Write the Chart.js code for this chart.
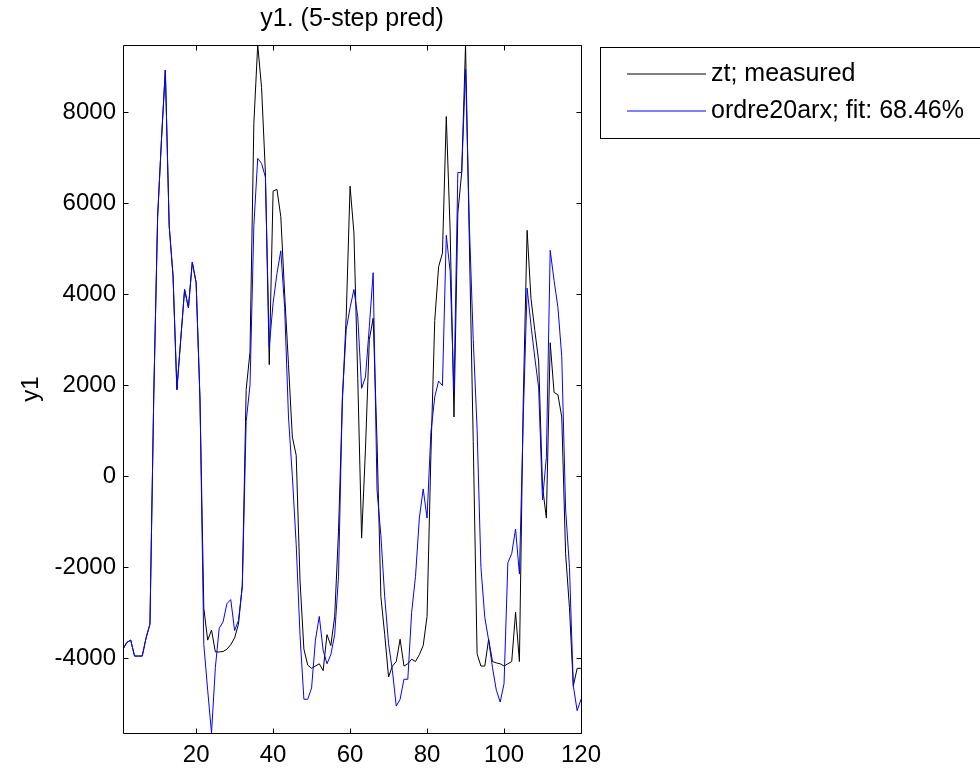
<!DOCTYPE html>
<html>
<head>
<meta charset="utf-8">
<script src="https://cdn.jsdelivr.net/npm/chart.js@4.4.1/dist/chart.umd.min.js"></script>
<style>
html,body{margin:0;padding:0;background:#ffffff;}
#wrap{width:980px;height:771px;position:relative;background:#ffffff;}
</style>
</head>
<body>
<div id="wrap"><canvas id="c"></canvas></div>
<script>
// ---- chart text ----
const titleText = 'y1. (5-step pred)';
const yAxisLabel = 'y1';
const seriesNames = ['zt; measured', 'ordre20arx; fit: 68.46%'];

// ---- categories / ticks ----
const samples = Array.from({length: 120}, (_, i) => i + 1);
const xTickValues = [20, 40, 60, 80, 100, 120];
const yTickValues = [-4000, -2000, 0, 2000, 4000, 6000, 8000];

// ---- series values ----
const measured = [
  -3800, -3650, -3600, -3950, -3950, -3950, -3550, -3250, 1800, 5700,
   7400,  8920,  5500,  4400,  1900,  3000,  4100,  3700, 4700, 4250,
   1700, -2900, -3600, -3380, -3860, -3860, -3850, -3800, -3700, -3550,
  -3250, -2400,  1900,  2730,  7750,  9470,  8540,  6670, 2450, 6260,
   6300,  5700,  4000,  2450,   860,   460, -2300, -3800, -4150, -4220,
  -4170, -4120, -4270, -3480, -3720, -3080, -1210,  1650, 3520, 6370,
   5340,  2140, -1360,   600,  3000,  3470,   760, -2640, -3480, -4410,
  -4170, -4070, -3580, -4170, -4120, -4020, -4070, -3920, -3720, -3080,
    460,  3420,  4600,  4900,  7900,  5390,  1300,  5780, 6670, 9470,
   5100,   760, -3900, -4170, -4170, -3580, -4070, -4100, -4120, -4170,
  -4120, -4070, -2990, -4070,  1700,  5400,  3910,  3200, 2530, -230,
   -920,  2930,  1840,  1790,  1300, -1700, -2890, -4610, -4220, -4220
];
const predicted = [
  -3800, -3650, -3600, -3950, -3950, -3950, -3550, -3250, 1800, 5700,
   7400,  8920,  5500,  4400,  1900,  3000,  4100,  3700, 4700, 4250,
   1700, -3700, -4700, -5640, -4200, -3340, -3200, -2800, -2710, -3390,
  -3170, -2430,  1200,  2000,  5500,  6980,  6870,  6570, 2850, 3800,
   4450,  4950,  3700,  1300,     0, -1500, -3500, -4900, -4900, -4650,
  -3600, -3080, -3820, -4120, -3920, -3480, -2200,  1740, 3220, 3700,
   4100,  3500,  1930,  2180,  3280,  4470,  -300, -1300, -2650, -3680,
  -4270, -5050, -4900, -4460, -4460, -2990, -2200,  -920, -280, -920,
    960,  1740,  2090,  1990,  5290,  4500,  1840,  6670, 6670, 8940,
   5500,  3000,  1050, -2000, -3100, -3600, -4200, -4700, -4960, -4560,
  -1900, -1700, -1160, -2150,  1300,  4130,  3320,  2600, 1940, -520,
    410,  4960,  4300,  3710,  2630,  -720, -2000, -4600, -5150, -4900
];

// ---- styling ----
const FONT = '"Liberation Sans", Arial, Helvetica, sans-serif';
const FS_TICK = 24;
const FS_TEXT = 25;
const PLOT = {left: 123, top: 45, right: 581, bottom: 733};
const COLORS = ['#000000', '#0000ff'];

const allVals = measured.concat(predicted);
const yMin = Math.min(...allVals);
const yMax = Math.max(...allVals);

const framePlugin = {
  id: 'matlabFrame',
  afterDraw(chart) {
    const c = chart.ctx;
    const a = chart.chartArea;
    const xs = chart.scales.x, ys = chart.scales.y;
    c.save();
    c.strokeStyle = '#000';
    c.lineWidth = 1;
    const L = Math.round(a.left) + 0.5, R = Math.round(a.right) + 0.5;
    const T = Math.round(a.top) + 0.5, B = Math.round(a.bottom) + 0.5;
    c.beginPath();
    c.rect(L, T, R - L, B - T);
    c.stroke();
    const tl = 5;
    c.beginPath();
    xTickValues.forEach(v => {
      const p = Math.round(xs.getPixelForValue(v)) + 0.5;
      c.moveTo(p, B); c.lineTo(p, B - tl);
      c.moveTo(p, T); c.lineTo(p, T + tl);
    });
    yTickValues.forEach(v => {
      const p = Math.round(ys.getPixelForValue(v)) + 0.5;
      c.moveTo(L, p); c.lineTo(L + tl, p);
      c.moveTo(R, p); c.lineTo(R - tl, p);
    });
    c.stroke();
    // title
    c.fillStyle = '#000';
    c.font = FS_TEXT + 'px ' + FONT;
    c.textAlign = 'center';
    c.textBaseline = 'middle';
    c.fillText(titleText, (a.left + a.right) / 2, 19);
    // y label
    c.font = FS_TICK + 'px ' + FONT;
    c.save();
    c.translate(31, (a.top + a.bottom) / 2);
    c.rotate(-Math.PI / 2);
    c.fillText(yAxisLabel, 0, 0);
    c.restore();
    // legend
    const bx = 600.5, by = 47.5, bw = 400, bh = 91;
    c.fillStyle = '#fff';
    c.fillRect(bx, by, bw, bh);
    c.strokeStyle = '#000';
    c.lineWidth = 1;
    c.strokeRect(bx, by, bw, bh);
    c.font = FS_TEXT + 'px ' + FONT;
    const rows = [74, 111];
    seriesNames.forEach((name, i) => {
      c.beginPath();
      c.strokeStyle = COLORS[i];
      c.lineWidth = 1;
      c.moveTo(627, rows[i]);
      c.lineTo(706, rows[i]);
      c.stroke();
      c.fillStyle = '#000';
      c.textAlign = 'left';
      c.textBaseline = 'middle';
      c.fillText(name, 711, rows[i]);
    });
    c.restore();
  }
};

new Chart(document.getElementById('c'), {
  type: 'line',
  data: {
    datasets: [
      {label: seriesNames[0], data: samples.map((x, i) => ({x: x, y: measured[i]})),
       borderColor: COLORS[0], borderWidth: 1, pointRadius: 0, tension: 0, fill: false, order: 2},
      {label: seriesNames[1], data: samples.map((x, i) => ({x: x, y: predicted[i]})),
       borderColor: COLORS[1], borderWidth: 1, pointRadius: 0, tension: 0, fill: false, order: 1}
    ]
  },
  options: {
    responsive: true,
    maintainAspectRatio: false,
    animation: false,
    events: [],
    layout: {padding: {left: 0, top: PLOT.top, right: 980 - PLOT.right, bottom: 0}},
    plugins: {legend: {display: false}, tooltip: {enabled: false}, title: {display: false}},
    scales: {
      x: {
        type: 'linear', min: samples[0], max: samples[samples.length - 1],
        afterBuildTicks: s => { s.ticks = xTickValues.map(v => ({value: v})); },
        afterFit: s => { s.height = 771 - PLOT.bottom; },
        grid: {display: false, drawTicks: false},
        border: {display: false},
        ticks: {color: '#000', font: {family: FONT, size: FS_TICK}, padding: 8, maxRotation: 0, autoSkip: false}
      },
      y: {
        type: 'linear', min: yMin, max: yMax,
        afterBuildTicks: s => { s.ticks = yTickValues.map(v => ({value: v})); },
        afterFit: s => { s.width = PLOT.left; },
        grid: {display: false, drawTicks: false},
        border: {display: false},
        ticks: {color: '#000', font: {family: FONT, size: FS_TICK}, padding: 7, callback: v => String(v)}
      }
    }
  },
  plugins: [framePlugin]
});
</script>
</body>
</html>
